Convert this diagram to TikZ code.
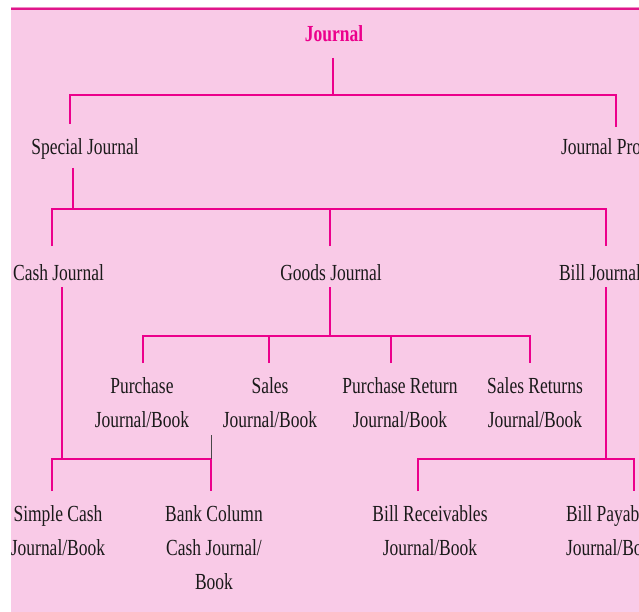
\documentclass[tikz,border=0pt]{standalone}
\usepackage{fontspec}
\setmainfont{Liberation Serif}[FakeStretch=0.76]
\definecolor{bgpink}{HTML}{F9CAE7}
\definecolor{mag}{HTML}{EC008C}
\definecolor{bordermag}{HTML}{E0168B}
\definecolor{ink}{HTML}{1A1A1A}
\newcommand\fs{\rule{0pt}{17pt}}
\begin{document}
\begin{tikzpicture}[x=1pt,y=-1pt,
  txt/.style={font=\fontsize{23}{34}\selectfont, text=ink, inner sep=0pt, outer sep=0pt, anchor=north, align=center},
  title/.style={txt, text=mag, font=\fontsize{23}{34}\selectfont\bfseries},
  conn/.style={draw=mag, line width=2.1pt},
  stray/.style={draw=ink!80, line width=0.8pt}]
\useasboundingbox (0,0) rectangle (639,612);
\fill[white] (0,0) rectangle (639,612);
\fill[bgpink] (11,8) rectangle (639,612);
\draw[bordermag!50, line width=1pt] (11,7.5) -- (639,7.5);
\draw[bordermag, line width=2.2pt] (11,9.3) -- (639,9.3);
\begin{scope}
\clip (11,10) rectangle (639,612);
% text nodes
\node[title] (journal) at (334,25) {\fs Journal};
\node[txt] (special) at (85,138) {\fs Special Journal};
\node[txt, anchor=north west] (proper) at (561,138) {\fs Journal Proper};
\node[txt] (cash) at (58.5,263) {\fs Cash Journal};
\node[txt] (goods) at (331,263) {\fs Goods Journal};
\node[txt, anchor=north west] (bill) at (559,263) {\fs Bill Journal};
\node[txt] (purchase) at (142,376) {\fs Purchase\\Journal/Book};
\node[txt] (sales) at (270,376) {\fs Sales\\Journal/Book};
\node[txt] (pret) at (400,376) {\fs Purchase Return\\Journal/Book};
\node[txt] (sret) at (535,376) {\fs Sales Returns\\Journal/Book};
\node[txt] (simple) at (58,504) {\fs Simple Cash\\Journal/Book};
\node[txt] (bank) at (214,504) {\fs Bank Column\\Cash Journal/\\Book};
\node[txt] (billrec) at (430,504) {\fs Bill Receivables\\Journal/Book};
\node[txt, anchor=north west, align=left] (billpay) at (566,504) {\fs Bill Payable\\Journal/Book};
% connector end points
\coordinate (journal-s) at (333,58);
\coordinate (bus1) at (333,95);
\coordinate (special-n) at (70,124);
\coordinate (proper-n) at (616,127);
\coordinate (special-s) at (73,168);
\coordinate (bus2) at (73,209);
\coordinate (cash-n) at (52,246);
\coordinate (goods-n) at (330,246);
\coordinate (goods-j) at (330,209);
\coordinate (bill-n) at (606,246);
\coordinate (goods-s) at (330,287);
\coordinate (bus3) at (330,336);
\coordinate (purchase-n) at (143,363);
\coordinate (sales-n) at (269,363);
\coordinate (sales-j) at (269,336);
\coordinate (pret-n) at (391,363);
\coordinate (pret-j) at (391,336);
\coordinate (sret-n) at (530,363);
\coordinate (cash-s) at (62,287);
\coordinate (bus4) at (62,459);
\coordinate (simple-n) at (52,491);
\coordinate (bank-n) at (211,491);
\coordinate (bank-j) at (211,459);
\coordinate (stray-top) at (211,435);
\coordinate (bill-s) at (606,287);
\coordinate (bus5) at (606,459);
\coordinate (billrec-n) at (418,491);
\coordinate (billpay-n) at (634,491);
% connectors
\draw[conn] (journal-s) -- (bus1);
\draw[conn] (special-n) |- (bus1) -| (proper-n);
\draw[conn] (special-s) -- (bus2);
\draw[conn] (cash-n) |- (bus2) -| (bill-n);
\draw[conn] (goods-n) -- (goods-j);
\draw[conn] (goods-s) -- (bus3);
\draw[conn] (purchase-n) |- (bus3) -| (sret-n);
\draw[conn] (sales-n) -- (sales-j);
\draw[conn] (pret-n) -- (pret-j);
\draw[conn] (cash-s) -- (bus4);
\draw[conn] (simple-n) |- (bus4) -| (bank-n);
\draw[stray] (stray-top) -- (bank-j);
\draw[conn] (bill-s) -- (bus5);
\draw[conn] (billrec-n) |- (bus5) -| (billpay-n);
\end{scope}
\end{tikzpicture}
\end{document}
